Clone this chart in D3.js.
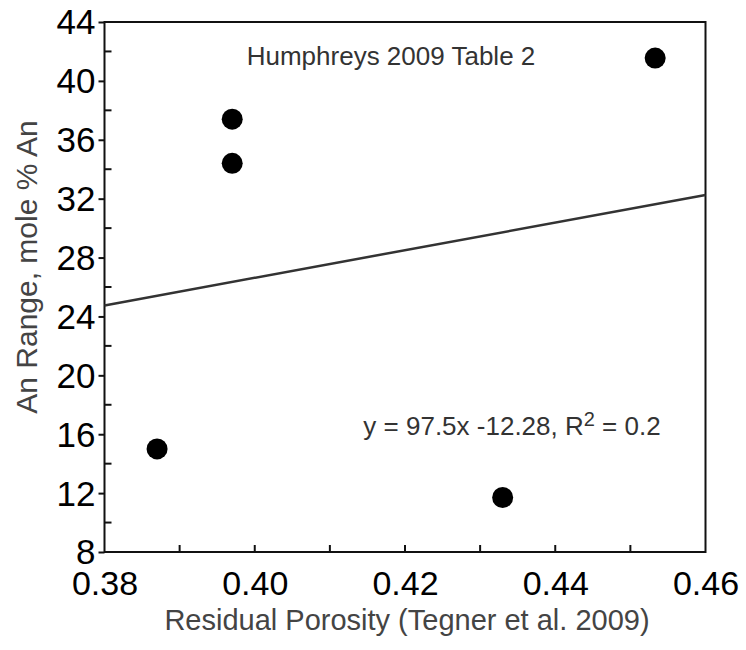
<!DOCTYPE html>
<html><head><meta charset="utf-8">
<script src="https://cdn.jsdelivr.net/npm/d3@7"></script>
<style>body{margin:0;background:#fff}svg{display:block}text{font-family:"Liberation Sans",Arial,sans-serif}</style>
</head><body>
<svg id="c" width="746" height="650"></svg>
<script>
const porosity = [0.387, 0.397, 0.397, 0.433, 0.4533];
const anRange = [15.0, 37.4, 34.4, 11.7, 41.55];
const fitX = [0.38, 0.46];
const fitY = [24.75, 32.25];
const xTickLabels = [0.38, 0.40, 0.42, 0.44, 0.46];
const yTickLabels = [8, 12, 16, 20, 24, 28, 32, 36, 40, 44];

const svg = d3.select("#c");
const L = 104.5, R = 705.5, T = 22, B = 552;
const x = d3.scaleLinear().domain([0.38, 0.46]).range([L, R]);
const y = d3.scaleLinear().domain([8, 44]).range([B, T]);
const FF = "Liberation Sans, Arial, sans-serif";

// frame
svg.append("rect").attr("x", L).attr("y", T).attr("width", R - L).attr("height", B - T)
  .attr("fill", "none").attr("stroke", "#111").attr("stroke-width", 2);

// y axis: major ticks outward with labels
const yAx = svg.append("g").attr("transform", `translate(${L},0)`)
  .call(d3.axisLeft(y).tickValues(yTickLabels).tickSize(6).tickPadding(3).tickFormat(d3.format("d")));
yAx.select(".domain").remove();
yAx.selectAll("line").attr("stroke", "#111").attr("stroke-width", 2);
yAx.selectAll("text").attr("font-size", 35).attr("fill", "#000").attr("font-family", FF).attr("dy", "0.34em");
// y minor ticks inward
const yMinor = d3.range(10, 44, 4);
svg.append("g").selectAll("line").data(yMinor).join("line")
  .attr("x1", L).attr("x2", L + 7).attr("y1", d => y(d)).attr("y2", d => y(d))
  .attr("stroke", "#111").attr("stroke-width", 2);

// x axis labels
const xAx = svg.append("g").attr("transform", `translate(0,${B})`)
  .call(d3.axisBottom(x).tickValues(xTickLabels).tickSize(0).tickPadding(19).tickFormat(d3.format(".2f")));
xAx.select(".domain").remove();
xAx.selectAll("text").attr("font-size", 34).attr("fill", "#000").attr("font-family", FF);
// x ticks inward every 0.01
const xMinor = [0.39, 0.40, 0.41, 0.42, 0.43, 0.44, 0.45];
svg.append("g").selectAll("line").data(xMinor).join("line")
  .attr("x1", d => x(d)).attr("x2", d => x(d)).attr("y1", B).attr("y2", B - 7)
  .attr("stroke", "#111").attr("stroke-width", 2);

// fit line
svg.append("line")
  .attr("x1", x(fitX[0])).attr("y1", y(fitY[0])).attr("x2", x(fitX[1])).attr("y2", y(fitY[1]))
  .attr("stroke", "#333").attr("stroke-width", 2.5);

// points
svg.append("g").selectAll("circle").data(porosity).join("circle")
  .attr("cx", d => x(d)).attr("cy", (d, i) => y(anRange[i])).attr("r", 10.5).attr("fill", "#000");

// annotations
svg.append("text").attr("x", 391).attr("y", 65).attr("text-anchor", "middle")
  .attr("font-size", 26).attr("fill", "#333").text("Humphreys 2009 Table 2");
const eq = svg.append("text").attr("x", 512).attr("y", 435).attr("text-anchor", "middle")
  .attr("font-size", 26).attr("fill", "#333");
eq.append("tspan").text("y = 97.5x -12.28, R");
eq.append("tspan").attr("dy", -9).attr("font-size", 20).text("2");
eq.append("tspan").attr("dy", 9).text(" = 0.2");

// axis titles
svg.append("text").attr("x", 407).attr("y", 630).attr("text-anchor", "middle")
  .attr("font-size", 29).attr("fill", "#444").text("Residual Porosity (Tegner et al. 2009)");
svg.append("text").attr("transform", `translate(37,267) rotate(-90)`).attr("text-anchor", "middle")
  .attr("font-size", 30).attr("fill", "#444").text("An Range, mole % An");
</script>
</body></html>
